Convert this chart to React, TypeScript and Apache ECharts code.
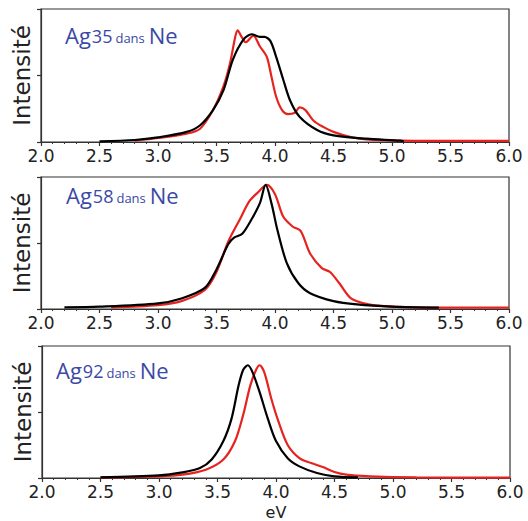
import React, { useEffect, useRef } from "react";
import * as echarts from "echarts";

const xTicks = ["2.0", "2.5", "3.0", "3.5", "4.0", "4.5", "5.0", "5.5", "6.0"];
const panelTitles = ["35", "58", "92"];

// Panel 1 (Ag35)
const p1BlackX = [2.5, 2.8, 3.0, 3.245, 3.36, 3.47, 3.56, 3.64, 3.73, 3.8, 3.87, 3.91, 3.96, 4.01, 4.07, 4.13, 4.21, 4.36, 4.5, 4.78, 5.07, 5.1];
const p1BlackY = [0.005, 0.015, 0.035, 0.076, 0.126, 0.24, 0.39, 0.62, 0.77, 0.81, 0.79, 0.79, 0.76, 0.64, 0.47, 0.31, 0.19, 0.09, 0.05, 0.025, 0.01, 0.005];
const p1RedX = [2.8, 3.0, 3.245, 3.36, 3.47, 3.56, 3.615, 3.66, 3.68, 3.715, 3.75, 3.815, 3.87, 3.93, 3.97, 4.01, 4.06, 4.11, 4.17, 4.21, 4.26, 4.33, 4.42, 4.5, 4.64, 4.78, 5.07, 5.5, 6.0];
const p1RedY = [0.01, 0.03, 0.063, 0.1, 0.24, 0.42, 0.59, 0.79, 0.84, 0.79, 0.75, 0.8, 0.72, 0.64, 0.49, 0.34, 0.24, 0.21, 0.22, 0.26, 0.24, 0.16, 0.11, 0.076, 0.038, 0.02, 0.01, 0.008, 0.008];

// Panel 2 (Ag58)
const p2BlackX = [2.2, 2.5, 3.0, 3.2, 3.4, 3.5, 3.6, 3.65, 3.72, 3.8, 3.87, 3.92, 3.97, 4.02, 4.1, 4.2, 4.3, 4.5, 4.7, 5.0, 5.4];
const p2BlackY = [0.013, 0.018, 0.043, 0.08, 0.16, 0.3, 0.49, 0.54, 0.57, 0.68, 0.8, 0.94, 0.8, 0.6, 0.35, 0.195, 0.12, 0.06, 0.035, 0.018, 0.01];
const p2RedX = [2.6, 3.0, 3.2, 3.4, 3.5, 3.6, 3.7, 3.78, 3.85, 3.93, 4.0, 4.07, 4.15, 4.22, 4.3, 4.4, 4.47, 4.55, 4.65, 4.8, 5.0, 5.4, 5.85, 6.0];
const p2RedY = [0.013, 0.03, 0.06, 0.144, 0.28, 0.51, 0.68, 0.815, 0.88, 0.94, 0.87, 0.7, 0.625, 0.59, 0.42, 0.31, 0.28, 0.195, 0.08, 0.035, 0.018, 0.01, 0.01, 0.01];

// Panel 3 (Ag92)
const p3BlackX = [2.5, 3.0, 3.2, 3.35, 3.45, 3.55, 3.62, 3.68, 3.72, 3.76, 3.8, 3.86, 3.93, 4.0, 4.1, 4.2, 4.35, 4.5, 4.7];
const p3BlackY = [0.005, 0.02, 0.043, 0.075, 0.14, 0.28, 0.45, 0.7, 0.82, 0.854, 0.8, 0.65, 0.45, 0.28, 0.15, 0.088, 0.038, 0.013, 0.005];
const p3RedX = [2.5, 3.0, 3.2, 3.4, 3.55, 3.65, 3.72, 3.78, 3.83, 3.86, 3.9, 3.96, 4.02, 4.1, 4.2, 4.3, 4.4, 4.5, 4.6, 4.8, 5.2, 6.0];
const p3RedY = [0.004, 0.013, 0.025, 0.063, 0.14, 0.28, 0.48, 0.7, 0.82, 0.854, 0.8, 0.6, 0.43, 0.25, 0.15, 0.113, 0.083, 0.045, 0.025, 0.013, 0.005, 0.003];

const pairs = (xs: number[], ys: number[]) => xs.map((x, i) => [x, ys[i]]);

const grids = [
  { left: 41, top: 9, width: 468, height: 133 },
  { left: 41, top: 177, width: 468, height: 132 },
  { left: 42, top: 346, width: 468, height: 132 },
];
const titlePos = [
  { x: 65, y: 46 },
  { x: 66, y: 206 },
  { x: 56, y: 381 },
];

const RED = "#e5231f";
const BLACK = "#000000";
const AXIS = "#333333";
const FONT = "DejaVu Sans";
const TITLE_FONT = "Open Sans";
const TITLE_COLOR = "#3a48a6";

export default function App() {
  const ref = useRef<HTMLDivElement>(null);
  useEffect(() => {
    if (!ref.current) return;
    const chart = echarts.init(ref.current, undefined, { renderer: "svg" });
    const data = [
      [pairs(p1BlackX, p1BlackY), pairs(p1RedX, p1RedY)],
      [pairs(p2BlackX, p2BlackY), pairs(p2RedX, p2RedY)],
      [pairs(p3BlackX, p3BlackY), pairs(p3RedX, p3RedY)],
    ];
    const series: any[] = [];
    data.forEach((pd, i) => {
      [BLACK, RED].forEach((c, j) => {
        series.push({
          type: "line",
          xAxisIndex: i,
          yAxisIndex: i,
          data: pd[j],
          showSymbol: false,
          smooth: 0.3,
          lineStyle: { color: c, width: 2.2 },
          z: j === 0 ? 3 : 2,
        });
      });
    });
    chart.setOption({
      animation: false,
      grid: grids.map((g) => ({ ...g, show: true, borderColor: AXIS, borderWidth: 1.2, backgroundColor: "#fff" })),
      xAxis: grids.map((_, i) => ({
        type: "value",
        gridIndex: i,
        min: 2,
        max: 6,
        interval: 0.5,
        name: i === 2 ? "eV" : "",
        nameLocation: "middle",
        nameGap: 26,
        nameTextStyle: { fontFamily: FONT, fontSize: 16, color: "#222" },
        axisLine: { show: true, onZero: false, lineStyle: { color: AXIS, width: 1.2 } },
        axisTick: { show: true, length: 4, lineStyle: { color: AXIS, width: 1.2 } },
        minorTick: { show: true, splitNumber: 5, length: 2, lineStyle: { color: AXIS, width: 1 } },
        splitLine: { show: false },
        axisLabel: {
          fontFamily: FONT,
          fontSize: 17,
          color: "#222",
          margin: 5,
          formatter: (v: number) => xTicks[Math.round((v - 2) / 0.5)] ?? "",
        },
      })),
      yAxis: grids.map((_, i) => ({
        type: "value",
        gridIndex: i,
        min: 0,
        max: 1,
        interval: 0.5,
        name: "Intensité",
        nameLocation: "middle",
        nameGap: 8,
        nameTextStyle: { fontFamily: FONT, fontSize: 23, color: "#222" },
        axisLine: { show: true, lineStyle: { color: AXIS, width: 1.2 } },
        axisTick: { show: true, length: 4, lineStyle: { color: AXIS, width: 1.2 } },
        axisLabel: { show: false },
        splitLine: { show: false },
      })),
      graphic: titlePos.map((p, i) => ({
        type: "text",
        x: p.x,
        y: p.y,
        z: 10,
        style: {
          text: `{a|Ag}{b|${panelTitles[i]}}{c|dans}{a|Ne}`,
          verticalAlign: "bottom",
          fill: TITLE_COLOR,
          rich: {
            a: { fontFamily: TITLE_FONT, fontSize: 22, lineHeight: 22, verticalAlign: "bottom", fill: TITLE_COLOR },
            b: { fontFamily: TITLE_FONT, fontSize: 18, lineHeight: 18, verticalAlign: "bottom", fill: TITLE_COLOR, padding: [0, 3, 1, 1] },
            c: { fontFamily: TITLE_FONT, fontSize: 13, lineHeight: 13, verticalAlign: "bottom", fill: TITLE_COLOR, padding: [0, 4, 2, 0] },
          },
        },
      })),
      series,
    });
    return () => chart.dispose();
  }, []);
  return <div ref={ref} style={{ position: "fixed", left: 0, top: 0, width: 528, height: 521, background: "#fff" }} />;
}
